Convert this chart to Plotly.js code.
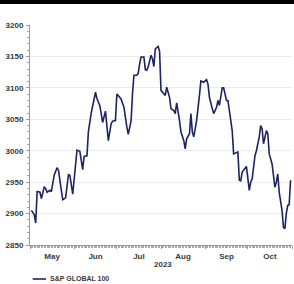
<!DOCTYPE html>
<html>
<head>
<meta charset="utf-8">
<script src="https://cdn.plot.ly/plotly-3.0.1.min.js"></script>
<style>html,body{margin:0;padding:0;background:#fff;}#chart{width:294px;height:284px;}</style>
</head>
<body>
<div id="chart"></div>
<script>
const seriesName = "S&P GLOBAL 100";
const yearLabel = "2023";
const dates = [
"2023-05-02","2023-05-04","2023-05-05","2023-05-06","2023-05-08","2023-05-09","2023-05-11","2023-05-12","2023-05-13","2023-05-15",
"2023-05-16","2023-05-18","2023-05-20","2023-05-21","2023-05-23","2023-05-24","2023-05-26","2023-05-28","2023-05-29","2023-05-30",
"2023-05-31","2023-06-03","2023-06-05","2023-06-07","2023-06-08","2023-06-10","2023-06-11","2023-06-13","2023-06-16","2023-06-17",
"2023-06-19","2023-06-20","2023-06-21","2023-06-23","2023-06-24","2023-06-25","2023-06-27","2023-06-28","2023-06-30","2023-07-01",
"2023-07-03","2023-07-04","2023-07-06","2023-07-07","2023-07-08","2023-07-09","2023-07-11","2023-07-12","2023-07-13","2023-07-15",
"2023-07-16","2023-07-17","2023-07-18","2023-07-20","2023-07-21","2023-07-22","2023-07-23","2023-07-25","2023-07-26","2023-07-27",
"2023-07-28","2023-07-30","2023-07-31","2023-08-01","2023-08-03","2023-08-04","2023-08-05","2023-08-07","2023-08-08","2023-08-10",
"2023-08-11","2023-08-12","2023-08-14","2023-08-15","2023-08-17","2023-08-18","2023-08-19","2023-08-21","2023-08-22","2023-08-23",
"2023-08-24","2023-08-26","2023-08-28","2023-08-29","2023-08-31","2023-09-02","2023-09-03","2023-09-04","2023-09-06","2023-09-07",
"2023-09-09","2023-09-10","2023-09-11","2023-09-12","2023-09-13","2023-09-14","2023-09-16","2023-09-17","2023-09-18","2023-09-20",
"2023-09-21","2023-09-22","2023-09-24","2023-09-25","2023-09-26","2023-09-27","2023-09-28","2023-09-30","2023-10-02","2023-10-03",
"2023-10-04","2023-10-06","2023-10-07","2023-10-09","2023-10-10","2023-10-11","2023-10-12","2023-10-14","2023-10-15","2023-10-16",
"2023-10-18","2023-10-19","2023-10-20","2023-10-21","2023-10-22","2023-10-23","2023-10-25","2023-10-26","2023-10-27","2023-10-28",
"2023-10-29","2023-10-30","2023-10-31"
];
const values = [
2905,2898,2885,2935,2934,2924,2942,2940,2934,2937,
2935,2961,2973,2969,2937,2922,2925,2962,2961,2947,
2931,3001,2999,2970,2991,2992,3030,3060,3093,3083,
3072,3059,3045,3063,3038,3016,3043,3047,3048,3090,
3085,3082,3069,3048,3038,3026,3048,3091,3120,3120,
3123,3138,3149,3149,3129,3128,3133,3152,3146,3134,
3162,3166,3158,3096,3091,3088,3101,3085,3067,3064,
3059,3076,3048,3030,3016,3003,3019,3027,3059,3030,
3022,3048,3088,3111,3109,3113,3106,3085,3067,3059,
3069,3080,3072,3085,3100,3100,3080,3080,3064,3032,
2995,2996,2998,2953,2952,2966,2969,2975,2937,2950,
2955,2992,3000,3022,3040,3035,3011,3032,3027,2995,
2979,2958,2942,2950,2963,2934,2905,2878,2876,2900,
2913,2914,2953
];
const yTicks = [2850,2900,2950,3000,3050,3100,3150,3200];

const lineColor = "#1c2461";
const tickFont = {family: "Liberation Sans, Arial, sans-serif", size: 8, color: "#3a3a3a", weight: "bold"};

const trace = {
  x: dates, y: values, type: "scatter", mode: "lines", name: seriesName,
  line: {color: lineColor, width: 1.6}, showlegend: false
};

const layout = {
  width: 294, height: 284,
  margin: {l: 30, r: 2, t: 25, b: 39},
  paper_bgcolor: "#fff", plot_bgcolor: "#fff",
  font: tickFont,
  xaxis: {
    type: "date", range: ["2023-05-01", "2023-11-01"],
    dtick: "M1", tick0: "2023-05-01", tickformat: "%b", ticklabelmode: "period",
    ticks: "outside", ticklen: 3, tickcolor: "#999", tickwidth: 1,
    minor: {dtick: 86400000, ticks: "outside", ticklen: 2, tickcolor: "#aaa", showgrid: false},
    showline: true, linecolor: "#999", linewidth: 1, showgrid: false, zeroline: false,
    tickfont: tickFont, fixedrange: true
  },
  yaxis: {
    range: [2850, 3200], tickvals: yTicks, ticktext: yTicks.map(String),
    ticks: "outside", ticklen: 3, tickcolor: "#999",
    minor: {dtick: 10, ticks: "outside", ticklen: 2, tickcolor: "#aaa", showgrid: false},
    showline: true, linecolor: "#999", linewidth: 1,
    showgrid: true, gridcolor: "#ececec", gridwidth: 1, zeroline: false,
    tickfont: tickFont, ticklabelstandoff: 1, fixedrange: true
  },
  shapes: [
    {type: "rect", xref: "paper", yref: "paper", x0: -30/262, x1: 1 + 2/262, y0: 1 + 21/220, y1: 1 + 25/220,
     fillcolor: "#000", line: {width: 0}},
    {type: "line", xref: "paper", yref: "paper", x0: 0.0103, x1: 0.061, y0: -0.1545, y1: -0.1545,
     line: {color: lineColor, width: 1.6}}
  ],
  annotations: [
    {text: yearLabel, xref: "paper", yref: "paper", x: 0.508, y: -0.0909, xanchor: "center", yanchor: "middle",
     showarrow: false, font: tickFont},
    {text: seriesName, xref: "paper", yref: "paper", x: 0.069, y: -0.1545, xanchor: "left", yanchor: "middle",
     showarrow: false, font: {family: "Liberation Sans, Arial, sans-serif", size: 7, color: "#3a3a3a", weight: "bold"}}
  ]
};

Plotly.newPlot("chart", [trace], layout, {displayModeBar: false, staticPlot: true});
</script>
</body>
</html>
